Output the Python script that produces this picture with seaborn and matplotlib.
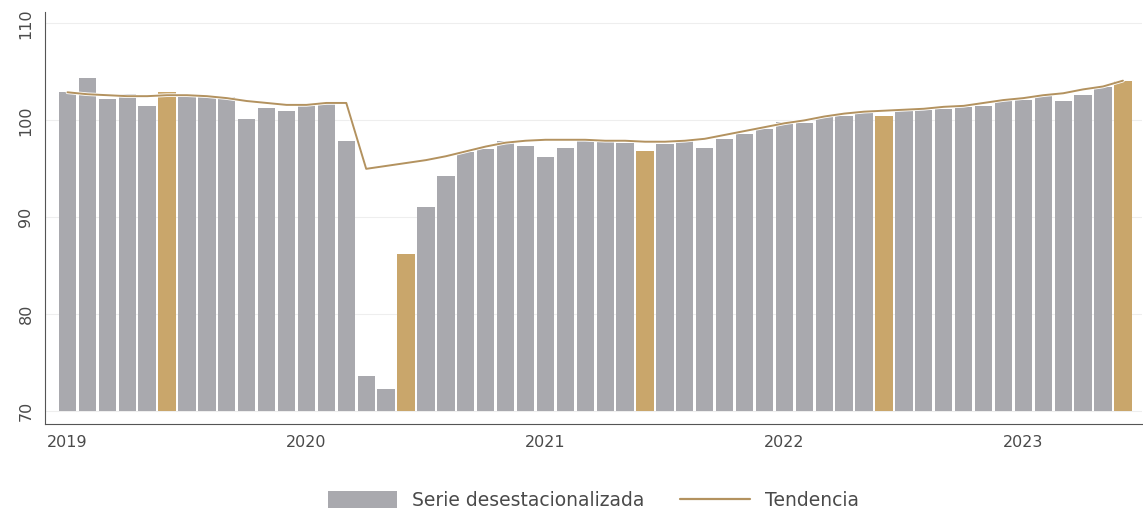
import numpy as np
import pandas as pd
import matplotlib
matplotlib.use("Agg")
import matplotlib.pyplot as plt
import matplotlib.patheffects as pe
from matplotlib.patches import Patch
from matplotlib.lines import Line2D
import seaborn as sns

# monthly data, Jan 2019 - Jun 2023
months = pd.date_range("2019-01-01", periods=54, freq="MS")

desest = [102.9, 104.4, 102.2, 102.7, 101.5, 102.9, 102.6, 102.5, 102.4, 100.1, 101.3, 101.0,
          101.7, 101.8, 97.9, 73.6, 72.3, 86.2, 91.1, 94.3, 96.7, 97.0, 97.9, 97.4,
          96.2, 97.2, 97.9, 97.8, 97.7, 96.8, 97.6, 98.0, 97.1, 98.1, 98.6, 99.1,
          99.8, 99.7, 100.3, 100.5, 100.9, 100.5, 101.0, 101.1, 101.2, 101.4, 101.5, 102.1,
          102.1, 102.6, 102.0, 102.6, 103.4, 104.1]

tendencia = [102.9, 102.7, 102.6, 102.5, 102.5, 102.6, 102.6, 102.5, 102.3, 102.0, 101.8, 101.6,
             101.6, 101.8, 101.8, 95.0, 95.3, 95.6, 95.9, 96.3, 96.8, 97.3, 97.7, 97.9,
             98.0, 98.0, 98.0, 97.9, 97.9, 97.8, 97.8, 97.9, 98.1, 98.5, 98.9, 99.3,
             99.7, 100.0, 100.4, 100.7, 100.9, 101.0, 101.1, 101.2, 101.4, 101.5, 101.8, 102.1,
             102.3, 102.6, 102.8, 103.2, 103.5, 104.1]

year_labels = ["2019", "2020", "2021", "2022", "2023"]

gray = "#a9a9ae"
gold = "#c9a66b"
line_col = "#b3925f"
text_col = "#4a4a4a"
base = 70

df = pd.DataFrame({
    "i": np.arange(len(months)),
    "valor": desest,
    "tend": tendencia,
    "tipo": np.where(months.month == 6, "junio", "otro"),
})

sns.set_style("white")
plt.rcParams["font.family"] = ["DejaVu Sans"]
plt.rcParams["text.color"] = text_col
plt.rcParams["xtick.color"] = text_col
plt.rcParams["ytick.color"] = text_col

fig = plt.figure(figsize=(11.43, 5.16), dpi=100)
ax = fig.add_axes([0.039, 0.178, 0.96, 0.799])

sns.barplot(data=df, x="i", y="valor", hue="tipo",
            palette={"otro": gray, "junio": gold}, dodge=False, saturation=1,
            width=0.87, legend=False, ax=ax, linewidth=0)

# bars start at 70, not at 0
for p in ax.patches:
    h = p.get_height()
    p.set_y(base)
    p.set_height(h - base)

sns.lineplot(data=df, x="i", y="tend", color=line_col, linewidth=1.4, ax=ax,
             path_effects=[pe.Stroke(linewidth=2.6, foreground="white"), pe.Normal()])

ax.set_xlim(-1.15, 53.95)
ax.set_ylim(68.65, 111.2)
ax.set_yticks([70, 80, 90, 100, 110])
ax.set_yticklabels(["70", "80", "90", "100", "110"], rotation=90, va="center")
ax.set_xticks([0, 12, 24, 36, 48])
ax.set_xticklabels(year_labels)
ax.tick_params(axis="both", labelsize=11.5, length=4, width=0.8, color="#555555", direction="out")
ax.tick_params(axis="y", pad=4)
ax.set_xlabel("")
ax.set_ylabel("")
ax.grid(axis="y", color="#eeeeee", linewidth=0.8)
ax.set_axisbelow(True)

for s in ["top", "right"]:
    ax.spines[s].set_visible(False)
for s in ["left", "bottom"]:
    ax.spines[s].set_color("#555555")
    ax.spines[s].set_linewidth(0.8)

handles = [Patch(facecolor=gray, edgecolor="none"),
           Line2D([0], [0], color=line_col, linewidth=1.6)]
fig.legend(handles, ["Serie desestacionalizada", "Tendencia"], loc="center",
           bbox_to_anchor=(0.519, 0.03), ncol=2, frameon=False, fontsize=13.5,
           handlelength=3.7, handleheight=0.95, columnspacing=1.9, handletextpad=0.8)

fig.savefig("out.png", dpi=100)
